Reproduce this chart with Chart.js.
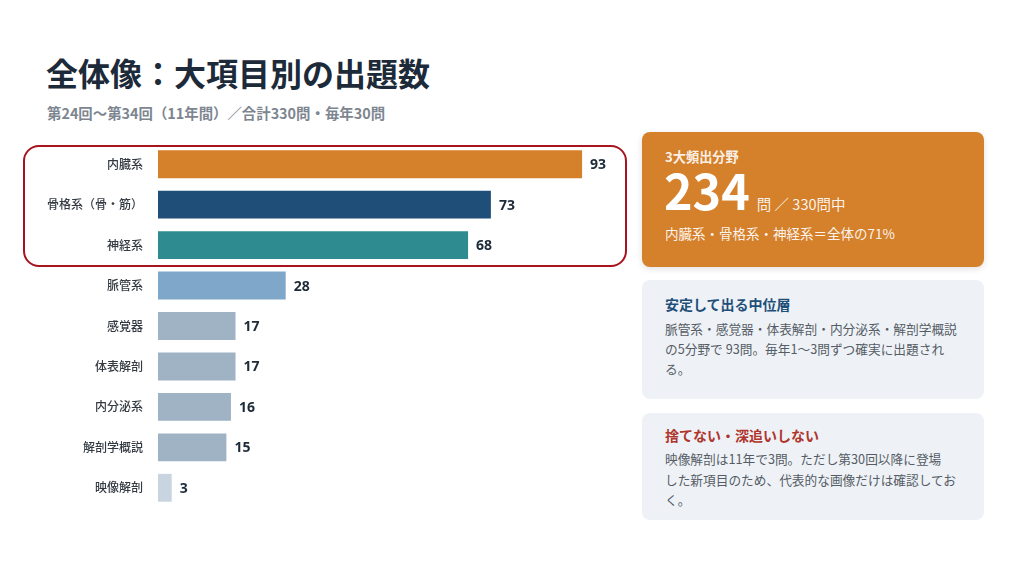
<!DOCTYPE html>
<html lang="ja">
<head>
<meta charset="utf-8">
<script src="https://cdn.jsdelivr.net/npm/chart.js@4.4.1/dist/chart.umd.min.js"></script>
<style>
  html, body { margin: 0; padding: 0; background: #fff; }
  body { width: 1024px; height: 576px; position: relative; overflow: hidden;
    font-family: "Noto Sans CJK JP", "Noto Sans", sans-serif; }
  h1 { position: absolute; left: 46px; top: 48px; margin: 0; font-size: 32px;
    font-weight: 700; color: #1c2a39; line-height: 48px; }
  .sub { position: absolute; left: 47px; top: 102px; font-size: 14.4px;
    font-weight: 700; color: #7d8690; line-height: 22px; white-space: nowrap; }
  #chartBox { position: absolute; left: 0; top: 144px; width: 614px; height: 364px; }
  .hilite { position: absolute; left: 23px; top: 145px; width: 604px; height: 122px;
    box-sizing: border-box; border: 2px solid #a8141e; border-radius: 16px; }
  .card { position: absolute; left: 642px; width: 342px; box-sizing: border-box;
    border-radius: 8px; padding: 0 20px 0 23px; }
  .card.main { top: 132px; height: 135px; background: #d5802b; color: #fff;
    box-shadow: 0 2px 6px rgba(0,0,0,0.12); }
  .card.soft { background: #eef2f7; }
  .main .lbl { position: absolute; top: 16px; left: 23px; font-size: 13.2px; font-weight: 700;
    color: rgba(255,255,255,0.9); line-height: 18px; white-space: nowrap; }
  .main .big { position: absolute; top: 30px; left: 22px; white-space: nowrap; line-height: 54px; }
  .main .big b { font-size: 48.5px; font-weight: 700; }
  .main .big span { font-size: 14.5px; color: rgba(255,255,255,0.92); margin-left: 7px; }
  .main .note { position: absolute; top: 91px; left: 23px; font-size: 13.5px;
    color: rgba(255,255,255,0.92); line-height: 20px; white-space: nowrap; }
  .soft .t { margin-top: 13px; font-size: 14px; font-weight: 700; line-height: 22px; white-space: nowrap; }
  .soft .d { margin-top: 4px; font-size: 12.7px; color: #555c64; line-height: 20.2px; white-space: nowrap; }
</style>
</head>
<body>
<h1>全体像：大項目別の出題数</h1>
<div class="sub">第24回〜第34回（11年間）／合計330問・毎年30問</div>

<div id="chartBox"><canvas id="myChart"></canvas></div>
<div class="hilite"></div>

<div class="card main">
  <div class="lbl">3大頻出分野</div>
  <div class="big"><b>234</b><span>問 ／ 330問中</span></div>
  <div class="note">内臓系・骨格系・神経系＝全体の71%</div>
</div>

<div class="card soft" style="top:280px;height:119px;">
  <div class="t" style="color:#1f4e79;">安定して出る中位層</div>
  <div class="d" style="line-height:20px;">脈管系・感覚器・体表解剖・内分泌系・解剖学概説<br>の5分野で 93問。毎年1〜3問ずつ確実に出題され<br>る。</div>
</div>

<div class="card soft" style="top:413px;height:107px;">
  <div class="t" style="color:#b0362c;margin-top:11px;">捨てない・深追いしない</div>
  <div class="d" style="margin-top:3px;line-height:20.5px;">映像解剖は11年で3問。ただし第30回以降に登場<br>した新項目のため、代表的な画像だけは確認してお<br>く。</div>
</div>

<script>
'use strict';

let categories = [
  '内臓系',
  '骨格系（骨・筋）',
  '神経系',
  '脈管系',
  '感覚器',
  '体表解剖',
  '内分泌系',
  '解剖学概説',
  '映像解剖'
];

let counts = [ 93, 73, 68, 28, 17, 17, 16, 15, 3 ];

let barColors = [
  '#d5802b',
  '#1f4e79',
  '#2e8b8f',
  '#7fa7ca',
  '#9fb3c5',
  '#9fb3c5',
  '#9fb3c5',
  '#9fb3c5',
  '#c8d4df'
];

// value labels at the end of each bar
let valueLabels = {
  id: 'valueLabels',
  afterDatasetsDraw( chart ) {
    let ctx = chart.ctx;
    let meta = chart.getDatasetMeta( 0 );
    ctx.save();
    ctx.font = '700 14px "Noto Sans", "DejaVu Sans", sans-serif';
    ctx.fillStyle = '#1c2a39';
    ctx.textBaseline = 'middle';
    ctx.textAlign = 'left';
    for( let i = 0; i < meta.data.length; i++ ) {
      let bar = meta.data[i];
      ctx.fillText( String( counts[i] ), bar.x + 8, bar.y + 1 );
    }
    ctx.restore();
  }
};

let ctx = document.getElementById( 'myChart' ).getContext( '2d' );

let myChart = new Chart( ctx, {
  type: 'bar',
  data: {
    labels: categories,
    datasets: [{
      data: counts,
      backgroundColor: barColors,
      borderWidth: 0,
      categoryPercentage: 1,
      barPercentage: 0.69
    }]
  },
  options: {
    indexAxis: 'y',
    responsive: true,
    maintainAspectRatio: false,
    animation: false,
    layout: { padding: 0 },
    plugins: {
      legend: { display: false },
      tooltip: { enabled: false }
    },
    scales: {
      x: {
        display: false,
        min: 0,
        max: 100
      },
      y: {
        grid: { display: false, drawTicks: false },
        border: { display: false },
        afterFit( scale ) {
          scale.width = 158;
          scale.paddingTop = 0;
          scale.paddingBottom = 0;
        },
        ticks: {
          padding: 15,
          color: '#333a42',
          font: { family: '"Noto Sans CJK JP", sans-serif', size: 12, weight: 500 }
        }
      }
    }
  },
  plugins: [ valueLabels ]
} );
</script>
</body>
</html>
